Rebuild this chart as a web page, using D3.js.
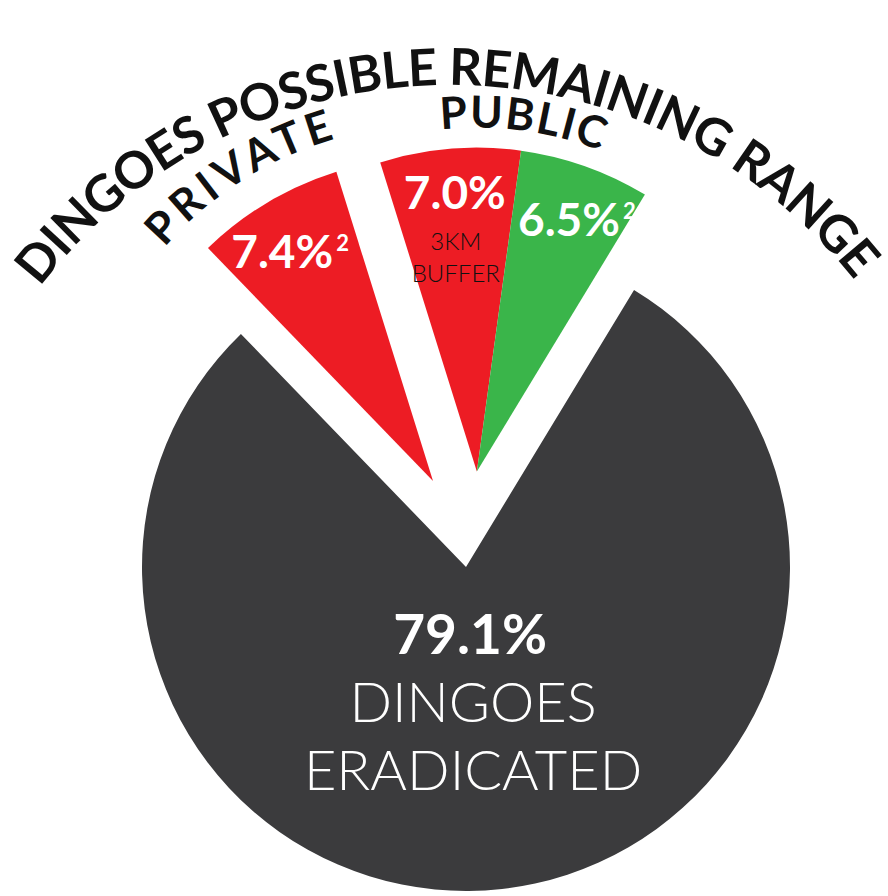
<!DOCTYPE html>
<html>
<head>
<meta charset="utf-8">
<script src="https://cdn.jsdelivr.net/npm/d3@7"></script>
<style>
  body { margin: 0; background: #fff; }
  svg { display: block; }
</style>
</head>
<body>
<script>
// data
const categories = ["PRIVATE", "3KM BUFFER", "PUBLIC", "DINGOES ERADICATED"];
const values = [7.4, 7.0, 6.5, 79.1];
const valueLabels = ["7.4%", "7.0%", "6.5%", "79.1%"];
const superscripts = ["2", "", "2", ""];
const subLabels = [[], ["3KM", "BUFFER"], [], ["DINGOES", "ERADICATED"]];
const landGroups = ["PRIVATE", "PUBLIC", "PUBLIC", "ERADICATED"];
const groupNames = ["PRIVATE", "PUBLIC"];
const title = "DINGOES POSSIBLE REMAINING RANGE";

const width = 888, height = 896;
const cx = 466, cy = 567, radius = 324;
const deg = Math.PI / 180;
const font = "'Century Gothic', Lato, 'DejaVu Sans', sans-serif";
const colors = ["#ed1c24", "#ed1c24", "#3ab54a", "#3b3b3d"];

// how far each group is pulled out of the pie (angle from 12 o'clock, px)
const explode = {
  PRIVATE: { angle: -21, dist: 92 },
  PUBLIC: { angle: 6.5, dist: 96 },
  ERADICATED: { angle: 0, dist: 0 }
};
// label spot from the slice tip: [angle, radius]
const labelPolar = [[-33.8, 257], [-4.8, 264], [23, 256], [177.3, 87]];
const labelSize = [46, 46, 46, 55];
const subStep = [[], [41, 73], [], [68, 136]];

const svg = d3.select("body").append("svg")
  .attr("width", width)
  .attr("height", height);

function shift(g) {
  const e = explode[g];
  return [Math.sin(e.angle * deg) * e.dist, -Math.cos(e.angle * deg) * e.dist];
}

function polar(a, r) {
  return [Math.sin(a * deg) * r, -Math.cos(a * deg) * r];
}

// arc path, angles in degrees clockwise from 12 o'clock
function arcPath(ox, oy, r, a0, a1) {
  const p = d3.path();
  p.arc(ox, oy, r, (a0 - 90) * deg, (a1 - 90) * deg);
  return p.toString();
}

const pie = d3.pie()
  .sort(null)
  .value(d => d)
  .startAngle(-44 * deg)
  .endAngle(316 * deg);
const arcs = pie(values);

const arc = d3.arc()
  .innerRadius(0)
  .outerRadius(radius);

const chart = svg.append("g")
  .attr("transform", `translate(${cx},${cy})`);

const slice = chart.selectAll("g.slice")
  .data(arcs)
  .join("g")
  .attr("class", "slice")
  .attr("transform", (d, i) => `translate(${shift(landGroups[i])})`);

slice.append("path")
  .attr("d", arc)
  .attr("fill", (d, i) => colors[i]);

// percentage labels
slice.each(function(d, i) {
  const g = d3.select(this);
  const [lx, ly] = polar(labelPolar[i][0], labelPolar[i][1]);
  const t = g.append("text")
    .attr("x", lx)
    .attr("y", ly)
    .attr("text-anchor", "middle")
    .attr("font-family", font)
    .attr("font-weight", "bold")
    .attr("font-size", labelSize[i])
    .attr("fill", "#fff")
    .text(valueLabels[i]);
  if (superscripts[i]) {
    t.append("tspan")
      .attr("font-size", 22)
      .attr("dy", -17)
      .attr("dx", 3)
      .text(superscripts[i]);
  }
  subLabels[i].forEach((s, k) => {
    g.append("text")
      .attr("x", lx + (i === 3 ? 3 : 1))
      .attr("y", ly + subStep[i][k])
      .attr("text-anchor", "middle")
      .attr("font-family", font)
      .attr("font-weight", 300)
      .attr("font-size", i === 3 ? 56 : 24)
      .attr("fill", i === 3 ? "#fff" : "#111")
      .text(s);
  });
});

// curved titles
const defs = svg.append("defs");
const curved = [
  { id: "titleArc", text: title, o: [450, 602], r: 517, a0: -52.5, a1: 51.5, size: 51 },
  { id: "privArc", text: groupNames[0], o: [cx, cy], r: 356, a0: -49, a1: -16, size: 44, g: "PRIVATE" },
  { id: "pubArc", text: groupNames[1], o: [cx, cy], r: 344, a0: -6, a1: 21, size: 44, g: "PUBLIC" }
];

curved.forEach(c => {
  let [ox, oy] = c.o;
  if (c.g) {
    const s = shift(c.g);
    ox += s[0];
    oy += s[1];
  }
  defs.append("path")
    .attr("id", c.id)
    .attr("d", arcPath(ox, oy, c.r, c.a0, c.a1));
  svg.append("text")
    .attr("font-family", font)
    .attr("font-weight", "bold")
    .attr("font-size", c.size)
    .attr("fill", "#111")
    .append("textPath")
    .attr("href", "#" + c.id)
    .attr("textLength", c.r * (c.a1 - c.a0) * deg)
    .attr("lengthAdjust", "spacing")
    .text(c.text);
});
</script>
</body>
</html>
